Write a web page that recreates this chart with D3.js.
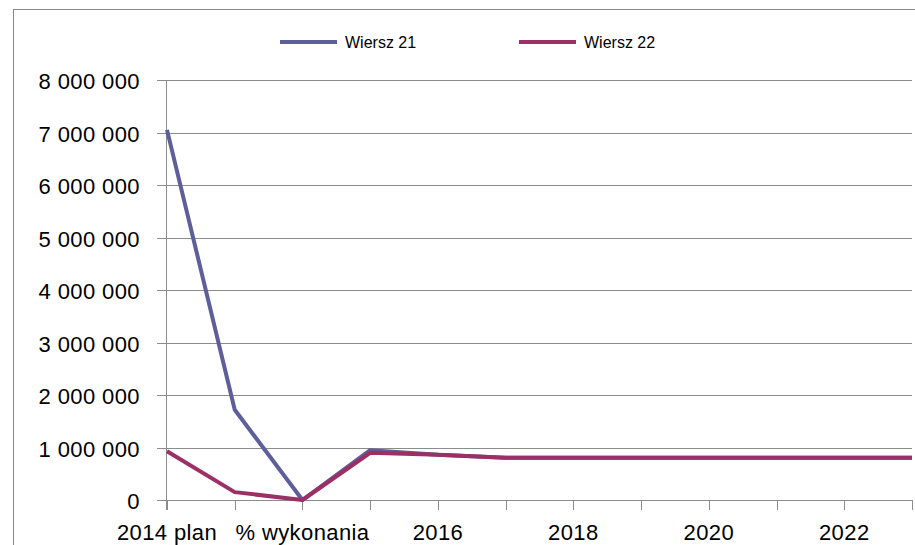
<!DOCTYPE html>
<html>
<head>
<meta charset="utf-8">
<script src="https://cdn.jsdelivr.net/npm/d3@7"></script>
<style>
  body { margin: 0; background: #fff; }
  svg text { font-family: "Liberation Sans", Arial, sans-serif; fill: #000; }
</style>
</head>
<body>
<div class="chart"></div>
<script>
// categories (Excel shows every other label)
let categories = ["2014 plan", "2014 wykonanie", "% wykonania", "2015", "2016", "2017", "2018", "2019", "2020", "2021", "2022", "2023"];
let wiersz21 = [7050000, 1720000, 0, 950000, 860000, 805000, 805000, 805000, 805000, 805000, 805000, 805000];
let wiersz22 = [930000, 150000, 0, 900000, 860000, 805000, 805000, 805000, 805000, 805000, 805000, 805000];
let yTicks = [0, 1000000, 2000000, 3000000, 4000000, 5000000, 6000000, 7000000, 8000000];
let seriesNames = ["Wiersz 21", "Wiersz 22"];
let seriesColors = ["#5e5e9a", "#9c2f65"];

let width = 915, height = 545;
let svg = d3.select(".chart").append("svg").attr("width", width).attr("height", height);

// outer frame
svg.append("rect")
  .attr("x", 13.5).attr("y", 9.5)
  .attr("width", 920).attr("height", 560)
  .attr("fill", "none").attr("stroke", "#888").attr("stroke-width", 1);

let x = d3.scalePoint().domain(categories).range([167, 912]);
let y = d3.scaleLinear().domain([0, 8000000]).range([500, 80]);

let fmt = d => d3.format(",")(d).replace(/,/g, " ");

// gridlines
svg.append("g")
  .selectAll("line")
  .data(yTicks)
  .enter()
  .append("line")
  .attr("x1", 157).attr("x2", 912)
  .attr("y1", d => Math.round(y(d)) + 0.5).attr("y2", d => Math.round(y(d)) + 0.5)
  .attr("stroke", "#8c8c8c").attr("stroke-width", 1);

// y labels
svg.append("g")
  .selectAll("text")
  .data(yTicks)
  .enter()
  .append("text")
  .attr("x", 140)
  .attr("y", d => y(d) + 9)
  .attr("text-anchor", "end")
  .style("font-size", "22px")
  .style("letter-spacing", "0.4px")
  .text(fmt);

// y axis line
svg.append("line")
  .attr("x1", 166.5).attr("x2", 166.5).attr("y1", 80).attr("y2", 510)
  .attr("stroke", "#8c8c8c");

// x ticks
svg.append("g")
  .selectAll("line")
  .data(categories)
  .enter()
  .append("line")
  .attr("x1", d => Math.round(x(d)) + 0.5).attr("x2", d => Math.round(x(d)) + 0.5)
  .attr("y1", 500).attr("y2", 510)
  .attr("stroke", "#8c8c8c");

// x labels, every other one
svg.append("g")
  .selectAll("text")
  .data(categories.filter((d, i) => i % 2 === 0))
  .enter()
  .append("text")
  .attr("x", d => x(d))
  .attr("y", 540)
  .attr("text-anchor", "middle")
  .style("font-size", "22px")
  .style("letter-spacing", "0.4px")
  .text(d => d);

// lines
let line = d3.line().x((d, i) => x(categories[i])).y(d => y(d));
[wiersz21, wiersz22].forEach((s, k) => {
  svg.append("path")
    .datum(s)
    .attr("d", line)
    .attr("fill", "none")
    .attr("stroke", seriesColors[k])
    .attr("stroke-width", 4)
    .attr("stroke-linejoin", "round");
});

// legend
let legendX = [280, 519];
seriesNames.forEach((name, k) => {
  svg.append("line")
    .attr("x1", legendX[k]).attr("x2", legendX[k] + 57)
    .attr("y1", 42).attr("y2", 42)
    .attr("stroke", seriesColors[k]).attr("stroke-width", 4);
  svg.append("text")
    .attr("x", legendX[k] + 65)
    .attr("y", 48)
    .style("font-size", "16px")
    .text(name);
});
</script>
</body>
</html>
